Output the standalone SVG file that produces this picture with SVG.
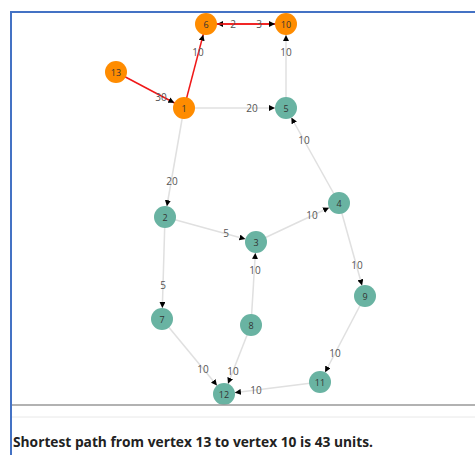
<svg xmlns="http://www.w3.org/2000/svg" width="475" height="455" viewBox="0 0 475 455">
<defs>
<style>
.e{stroke:#e0e0e0;stroke-width:1.5;fill:none;marker-end:url(#arr)}
.p{stroke:#f01818;stroke-width:1.5;fill:none;marker-end:url(#arr)}
.lb{font-family:"Open Sans","Noto Sans",sans-serif;font-size:10px;fill:#555;text-anchor:middle;dominant-baseline:central}
.o{fill:#ff8c00}
.t{fill:#69b3a2}
.nt{font-family:"Open Sans","Noto Sans",sans-serif;font-size:9px;fill:#333;text-anchor:middle;dominant-baseline:central}
</style>
<marker id="arr" viewBox="0 -3 6 6" markerWidth="6" markerHeight="6" refX="17" refY="0" orient="auto" markerUnits="userSpaceOnUse">
<path d="M0,-3L6,0L0,3Z" fill="#000"/>
</marker>
</defs>
<rect width="475" height="455" fill="#fff"/>
<path d="M11,455V12H475" stroke="#4472c4" stroke-width="2" fill="none"/>
<g id="connectors">
<line class="p" x1="116" y1="72" x2="184" y2="108"/>
<line class="p" x1="184" y1="108" x2="206" y2="24"/>
<line class="p" x1="286" y1="24" x2="206" y2="24"/>
<line class="p" x1="206" y1="24" x2="286" y2="24"/>
<line class="e" x1="184" y1="108" x2="286" y2="108"/>
<line class="e" x1="286" y1="108" x2="286" y2="24"/>
<line class="e" x1="339" y1="203" x2="286" y2="108"/>
<line class="e" x1="184" y1="108" x2="165" y2="217"/>
<line class="e" x1="165" y1="217" x2="256" y2="242"/>
<line class="e" x1="256" y1="242" x2="339" y2="203"/>
<line class="e" x1="339" y1="203" x2="365" y2="296"/>
<line class="e" x1="165" y1="217" x2="162" y2="319"/>
<line class="e" x1="251" y1="325" x2="256" y2="242"/>
<line class="e" x1="162" y1="319" x2="224" y2="394"/>
<line class="e" x1="251" y1="325" x2="224" y2="394"/>
<line class="e" x1="365" y1="296" x2="320" y2="382"/>
<line class="e" x1="320" y1="382" x2="224" y2="394"/>
<text class="lb" x="161" y="97">30</text>
<text class="lb" x="198" y="52">10</text>
<text class="lb" x="233" y="24">2</text>
<text class="lb" x="259" y="24">3</text>
<text class="lb" x="252" y="108">20</text>
<text class="lb" x="286" y="52">10</text>
<text class="lb" x="304" y="140">10</text>
<text class="lb" x="172" y="181">20</text>
<text class="lb" x="226" y="233">5</text>
<text class="lb" x="312" y="215">10</text>
<text class="lb" x="357" y="265">10</text>
<text class="lb" x="163" y="285">5</text>
<text class="lb" x="255" y="270">10</text>
<text class="lb" x="203" y="369">10</text>
<text class="lb" x="233" y="371">10</text>
<text class="lb" x="335" y="353">10</text>
<text class="lb" x="256" y="390">10</text>
</g>
<g id="n1"><circle class="o" cx="184" cy="108" r="11"/><text class="nt" x="184" y="108">1</text></g>
<g id="n2"><circle class="t" cx="165" cy="217" r="11"/><text class="nt" x="165" y="217">2</text></g>
<g id="n3"><circle class="t" cx="256" cy="242" r="11"/><text class="nt" x="256" y="242">3</text></g>
<g id="n4"><circle class="t" cx="339" cy="203" r="11"/><text class="nt" x="339" y="203">4</text></g>
<g id="n5"><circle class="t" cx="286" cy="108" r="11"/><text class="nt" x="286" y="108">5</text></g>
<g id="n6"><circle class="o" cx="206" cy="24" r="11"/><text class="nt" x="206" y="24">6</text></g>
<g id="n7"><circle class="t" cx="162" cy="319" r="11"/><text class="nt" x="162" y="319">7</text></g>
<g id="n8"><circle class="t" cx="251" cy="325" r="11"/><text class="nt" x="251" y="325">8</text></g>
<g id="n9"><circle class="t" cx="365" cy="296" r="11"/><text class="nt" x="365" y="296">9</text></g>
<g id="n10"><circle class="o" cx="286" cy="24" r="11"/><text class="nt" x="286" y="24">10</text></g>
<g id="n11"><circle class="t" cx="320" cy="382" r="11"/><text class="nt" x="320" y="382">11</text></g>
<g id="n12"><circle class="t" cx="224" cy="394" r="11"/><text class="nt" x="224" y="394">12</text></g>
<g id="n13"><circle class="o" cx="116" cy="72" r="11"/><text class="nt" x="116" y="72">13</text></g>
<line x1="12" y1="405" x2="475" y2="405" stroke="#999" stroke-width="1.5"/>
<line x1="12" y1="417" x2="475" y2="417" stroke="#e8e8e8" stroke-width="1"/>
<text x="13" y="447" font-family="'Open Sans','Noto Sans',sans-serif" font-weight="bold" font-size="14" fill="#222" textLength="360" lengthAdjust="spacingAndGlyphs">Shortest path from vertex 13 to vertex 10 is 43 units.</text>
</svg>
